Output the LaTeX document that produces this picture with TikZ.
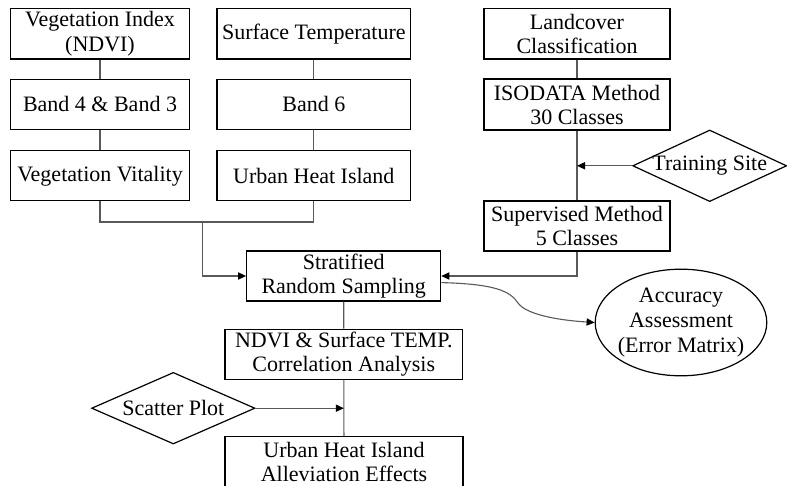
\documentclass[tikz,border=0pt]{standalone}
\usepackage{fontspec}
\setmainfont{Liberation Serif}
\usetikzlibrary{shapes.geometric,arrows.meta}
\begin{document}
\begin{tikzpicture}[x=0.5pt,y=-0.5pt,
  txt/.style={font=\fontsize{11}{12.2}\selectfont},
  box/.style={txt,draw,line width=0.6pt,inner sep=0pt,align=center,rectangle},
  dia/.style={txt,draw,line width=0.6pt,diamond,inner sep=0pt},
  conn/.style={draw=black!65,line width=0.55pt},
  arr/.style={conn,-{Triangle[length=4pt,width=3.6pt,fill=black,color=black]}}
]
\useasboundingbox (0,0) rectangle (787,486);
\clip (0,0) rectangle (787,486);
% left column
\node[box,minimum width=89.3pt,minimum height=25.35pt] (veg) at (100,33.7) {Vegetation Index\\(NDVI)};
\node[box,minimum width=89.3pt,minimum height=25pt] (b43) at (100,104.3) {Band 4 \& Band 3};
\node[box,minimum width=89.3pt,minimum height=25pt] (vit) at (100,175.8) {Vegetation Vitality};
% middle column
\node[box,minimum width=96.85pt,minimum height=25.35pt] (surf) at (313.8,33.7) {Surface Temperature};
\node[box,minimum width=96.85pt,minimum height=25pt] (b6) at (313.8,104.3) {Band 6};
\node[box,minimum width=96.85pt,minimum height=25pt] (uhi) at (313.8,175.8) {Urban Heat Island};
% right column
\node[box,minimum width=93pt,minimum height=25.35pt] (land) at (577,33.7) {Landcover\\Classification};
\node[box,line width=1.1pt,minimum width=93pt,minimum height=25.35pt] (iso) at (577,104.7) {ISODATA Method\\30 Classes};
\node[box,minimum width=93pt,minimum height=25pt] (sup) at (577,226) {Supervised Method\\5 Classes};
\node[dia,minimum width=77pt,minimum height=35.8pt] (tr) at (709.7,165.8) {\makebox[0pt]{Training Site}};
% centre
\node[box,minimum width=97pt,minimum height=25pt] (strat) at (343.7,276) {Stratified\\Random Sampling};
\node[box,minimum width=118.9pt,minimum height=25pt] (ndvi) at (343.8,354.3) {NDVI \& Surface TEMP.\\Correlation Analysis};
\node[box,minimum width=119pt,minimum height=25pt] (eff) at (344,461.7) {Urban Heat Island\\Alleviation Effects};
\node[dia,minimum width=81.7pt,minimum height=35.8pt] (sc) at (173.3,408.2) {\makebox[0pt]{Scatter Plot}};
\node[txt,draw,line width=0.6pt,ellipse,inner sep=0pt,minimum width=85.8pt,minimum height=50.2pt] (acc) at (681,322.5)
  {\makebox[0pt]{\renewcommand\arraystretch{1.03}\setlength\tabcolsep{0pt}\begin{tabular}{c}Accuracy\\Assessment\\(Error Matrix)\end{tabular}}};
% connectors
\coordinate (j1) at (202.7,222);
\draw[conn] (veg) -- (b43);
\draw[conn] (b43) -- (vit);
\draw[conn] (surf) -- (b6);
\draw[conn] (b6) -- (uhi);
\draw[conn] (land) -- (iso);
\draw[conn] (iso) -- (sup);
\draw[conn] (strat) -- (ndvi);
\draw[conn] (ndvi) -- (eff);
\draw[conn] (vit.south) |- (uhi.south |- j1) -- (uhi.south);
\draw[arr] (j1) |- (strat.west);
\draw[arr] (sup.south) |- (strat.east);
\draw[arr] (tr.west) -- (tr.west -| iso.south);
\draw[arr] (sc.east) -- (sc.east -| ndvi.south);
\draw[arr] ([yshift=-3.3pt]strat.east) .. controls (495,284) and (510,291) .. (518,303)
  .. controls (526,314) and (555,320) .. (acc.west);
\end{tikzpicture}
\end{document}
